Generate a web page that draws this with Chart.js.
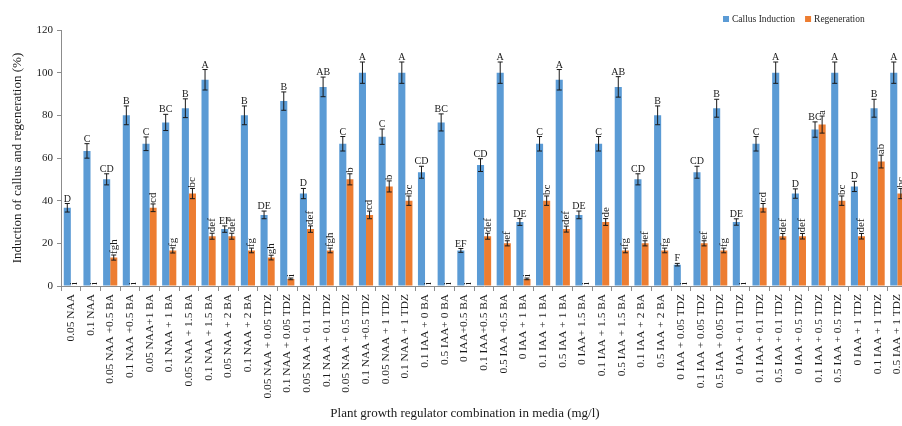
<!DOCTYPE html>
<html>
<head>
<meta charset="utf-8">
<script src="https://cdn.jsdelivr.net/npm/chart.js@4.4.1/dist/chart.umd.min.js"></script>
<style>
    html, body { margin: 0; padding: 0; background: #fff; overflow: hidden; }
    #wrap { position: relative; width: 914px; height: 426px; }
</style>
</head>
<body>
<div id="wrap"><canvas id="charts-callus"></canvas></div>
<script>
// media combinations (mg/l)
const media = [
    '0.05 NAA', '0.1 NAA', '0.05 NAA +0.5 BA', '0.1 NAA +0.5 BA', '0.05 NAA+1 BA',
    '0.1 NAA + 1 BA', '0.05 NAA + 1.5 BA', '0.1 NAA + 1.5 BA', '0.05 NAA + 2 BA', '0.1 NAA + 2 BA',
    '0.05 NAA + 0.05 TDZ', '0.1 NAA + 0.05 TDZ', '0.05 NAA + 0.1 TDZ', '0.1 NAA + 0.1 TDZ', '0.05 NAA + 0.5 TDZ',
    '0.1 NAA +0.5 TDZ', '0.05 NAA + 1 TDZ', '0.1 NAA + 1 TDZ', '0.1 IAA + 0 BA', '0.5 IAA+ 0 BA',
    '0 IAA+0.5 BA', '0.1 IAA+0.5 BA', '0.5 IAA +0.5 BA', '0 IAA + 1 BA', '0.1 IAA + 1 BA',
    '0.5 IAA + 1 BA', '0 IAA+ 1.5 BA', '0.1 IAA + 1.5 BA', '0.5 IAA + 1.5 BA', '0.1 IAA + 2 BA',
    '0.5 IAA + 2 BA', '0 IAA + 0.05 TDZ', '0.1 IAA + 0.05 TDZ', '0.5 IAA + 0.05 TDZ', '0 IAA + 0.1 TDZ',
    '0.1 IAA + 0.1 TDZ', '0.5 IAA + 0.1 TDZ', '0 IAA + 0.5 TDZ', '0.1 IAA + 0.5 TDZ', '0.5 IAA + 0.5 TDZ',
    '0 IAA + 1 TDZ', '0.1 IAA + 1 TDZ', '0.5 IAA + 1 TDZ'
];

const callus = [
    36.67, 63.33, 50, 80, 66.67, 76.67, 83.33, 96.67, 26.67, 80,
    33.33, 86.67, 43.33, 93.33, 66.67, 100, 70, 100, 53.33, 76.67,
    16.67, 56.67, 100, 30, 66.67, 96.67, 33.33, 66.67, 93.33, 50,
    80, 10, 53.33, 83.33, 30, 66.67, 100, 43.33, 73.33, 100,
    46.67, 83.33, 100
];
const callusErr = [
    2.0, 3.4, 2.6, 4.4, 3.2, 3.8, 4.4, 4.8, 1.5, 4.4,
    1.8, 4.3, 2.4, 4.6, 3.4, 5.0, 3.6, 5.0, 2.8, 4.0,
    0.9, 3.0, 5.0, 1.6, 3.4, 4.8, 1.8, 3.4, 4.8, 2.6,
    4.4, 0.6, 2.8, 4.2, 1.5, 3.4, 5.0, 2.2, 3.6, 5.0,
    2.4, 4.2, 5.0
];
const callusGroups = [
    'D', 'C', 'CD', 'B', 'C', 'BC', 'B', 'A', 'EF', 'B',
    'DE', 'B', 'D', 'AB', 'C', 'A', 'C', 'A', 'CD', 'BC',
    'EF', 'CD', 'A', 'DE', 'C', 'A', 'DE', 'C', 'AB', 'CD',
    'B', 'F', 'CD', 'B', 'DE', 'C', 'A', 'D', 'BC', 'A',
    'D', 'B', 'A'
];

const regen = [
    0, 0, 13.33, 0, 36.67, 16.67, 43.33, 23.33, 23.33, 16.67,
    13.33, 3.33, 26.67, 16.67, 50, 33.33, 46.67, 40, 0, 0,
    0, 23.33, 20, 3.33, 40, 26.67, 0, 30, 16.67, 20,
    16.67, 0, 20, 16.67, 0, 36.67, 23.33, 23.33, 75.67, 40,
    23.33, 58.33, 43.33
];
const regenErr = [
    0, 0, 1.2, 0, 1.8, 1.2, 2.4, 1.4, 1.4, 1.1,
    1.1, 0.4, 1.5, 1.1, 2.6, 1.8, 2.6, 2.2, 0, 0,
    0, 1.4, 1.2, 0.4, 2.2, 1.4, 0, 1.6, 1.1, 1.2,
    1.1, 0, 1.2, 1.1, 0, 2.0, 1.3, 1.3, 4.0, 2.2,
    1.3, 3.0, 2.4
];
const regenGroups = [
    'i', 'i', 'fgh', 'i', 'cd', 'fg', 'bc', 'def', 'def', 'fg',
    'gh', 'i', 'def', 'fgh', 'b', 'cd', 'b', 'bc', 'i', 'i',
    'i', 'def', 'ef', 'i', 'bc', 'def', 'i', 'de', 'fg', 'ef',
    'fg', 'i', 'ef', 'fg', 'i', 'cd', 'def', 'def', 'a', 'bc',
    'def', 'ab', 'bc'
];

const serif = '"Liberation Serif", "Times New Roman", serif';

// error bars and significance letters above each bar
const barExtras = {
    id: 'barExtras',
    afterDatasetsDraw(chart) {
        const ctx = chart.ctx;
        const y = chart.scales.y;
        chart.data.datasets.forEach(function(ds, i) {
            const meta = chart.getDatasetMeta(i);
            meta.data.forEach(function(bar, j) {
                const v = ds.data[j];
                const e = ds.errors[j];
                const top = y.getPixelForValue(v + e);
                const bot = y.getPixelForValue(v - e);
                ctx.save();
                if (e > 0) {
                    ctx.strokeStyle = '#1a1a1a';
                    ctx.lineWidth = 1;
                    ctx.beginPath();
                    ctx.moveTo(bar.x, top);
                    ctx.lineTo(bar.x, bot);
                    ctx.moveTo(bar.x - 2.5, top);
                    ctx.lineTo(bar.x + 2.5, top);
                    ctx.moveTo(bar.x - 2.5, bot);
                    ctx.lineTo(bar.x + 2.5, bot);
                    ctx.stroke();
                }
                ctx.fillStyle = '#1a1a1a';
                if (ds.verticalLetters) {
                    ctx.font = '11px ' + serif;
                    ctx.translate(bar.x, top - 1);
                    ctx.rotate(-Math.PI / 2);
                    ctx.textAlign = 'left';
                    ctx.textBaseline = 'middle';
                    ctx.fillText(ds.groups[j], 0, 0);
                } else {
                    ctx.font = '10px ' + serif;
                    ctx.textAlign = 'center';
                    ctx.textBaseline = 'alphabetic';
                    ctx.fillText(ds.groups[j], bar.x, top - 2);
                }
                ctx.restore();
            });
        });
    }
};

// legend at the top right and the x axis caption
const frame = {
    id: 'frame',
    afterDraw(chart) {
        const ctx = chart.ctx;
        ctx.save();
        ctx.font = '9.5px ' + serif;
        ctx.textBaseline = 'middle';
        ctx.textAlign = 'left';
        let x = 723;
        chart.data.datasets.forEach(function(ds) {
            ctx.fillStyle = ds.backgroundColor;
            ctx.fillRect(x, 16, 6, 6);
            ctx.fillStyle = '#262626';
            ctx.fillText(ds.label, x + 9, 19);
            x += 9 + ctx.measureText(ds.label).width + 10;
        });
        ctx.font = '13px ' + serif;
        ctx.textAlign = 'center';
        ctx.fillStyle = '#1a1a1a';
        ctx.fillText('Plant growth regulator combination in media (mg/l)', 465, 414);
        ctx.restore();
    }
};

var config = {
    type: 'bar',
    data: {
        labels: media,
        datasets: [
            {
                label: 'Callus Induction',
                data: callus,
                errors: callusErr,
                groups: callusGroups,
                verticalLetters: false,
                backgroundColor: '#5b9bd5',
            },
            {
                label: 'Regeneration',
                data: regen,
                errors: regenErr,
                groups: regenGroups,
                verticalLetters: true,
                backgroundColor: '#ed7d31',
            }
        ]
    },
    options: {
        responsive: true,
        maintainAspectRatio: false,
        animation: false,
        layout: { padding: { top: 30, right: 2, bottom: 0, left: 0 } },
        datasets: {
            bar: { categoryPercentage: 0.72, barPercentage: 1.0 }
        },
        plugins: {
            legend: { display: false },
            title: { display: false },
            tooltip: { enabled: false }
        },
        scales: {
            x: {
                grid: { drawOnChartArea: false, tickLength: 5, color: '#8c8c8c', offset: true },
                border: { color: '#8c8c8c' },
                ticks: {
                    autoSkip: false,
                    maxRotation: 90,
                    minRotation: 90,
                    padding: 3,
                    color: '#1a1a1a',
                    font: { family: serif, size: 11.4 }
                },
                afterFit: function(scale) { scale.height = 140; }
            },
            y: {
                min: 0,
                max: 120,
                ticks: {
                    stepSize: 20,
                    padding: 4,
                    color: '#1a1a1a',
                    font: { family: serif, size: 11 }
                },
                grid: { drawOnChartArea: false, tickLength: 4, color: '#8c8c8c' },
                border: { color: '#8c8c8c' },
                title: {
                    display: true,
                    text: 'Induction of callus and regeneration (%)',
                    color: '#1a1a1a',
                    font: { family: serif, size: 13 },
                    padding: { top: 10, bottom: 0 }
                },
                afterFit: function(scale) { scale.width = 61; }
            }
        }
    },
    plugins: [barExtras, frame]
};

new Chart(document.getElementById('charts-callus'), config);
</script>
</body>
</html>
